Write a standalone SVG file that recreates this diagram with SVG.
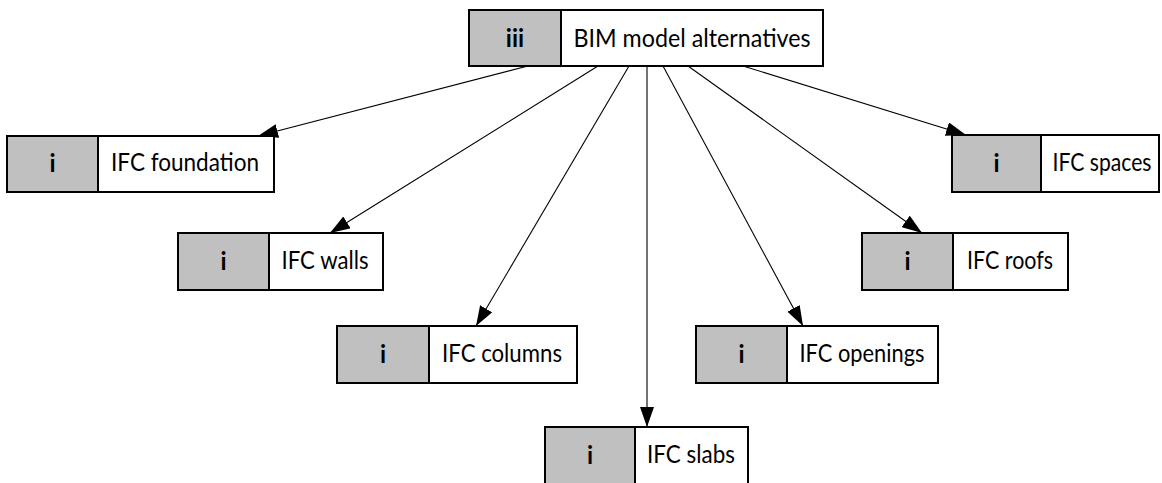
<svg xmlns="http://www.w3.org/2000/svg" width="1162" height="483" viewBox="0 0 1162 483">
<style>
.box{fill:#fff;stroke:#000;stroke-width:2}
.tag{fill:#c0c0c0;stroke:#000;stroke-width:2}
.lbl{font-family:Lato,"Open Sans","Liberation Sans",sans-serif;font-size:25px;fill:#000;text-anchor:middle}
.num{font-family:Lato,"Open Sans","Liberation Sans",sans-serif;font-size:24px;font-weight:bold;fill:#000;text-anchor:middle}
.conn{stroke:#000;stroke-width:1.1;fill:none;marker-end:url(#ah)}
</style>
<defs>
<marker id="ah" markerUnits="userSpaceOnUse" markerWidth="21" markerHeight="14" refX="20" refY="7" orient="auto">
<path d="M0,0 L20,7 L0,14 z" fill="#000"/>
</marker>
</defs>
<g id="connectors">
<line class="conn" x1="528" y1="66" x2="258" y2="136"/>
<line class="conn" x1="598" y1="66" x2="330" y2="233"/>
<line class="conn" x1="629" y1="66" x2="476" y2="326"/>
<line class="conn" x1="647" y1="66" x2="647" y2="427"/>
<line class="conn" x1="663" y1="66" x2="803" y2="326"/>
<line class="conn" x1="688" y1="66" x2="922" y2="233"/>
<line class="conn" x1="743" y1="66" x2="966" y2="135"/>
</g>
<g id="n-bim">
<rect class="box" x="469" y="10" width="354" height="56"/>
<rect class="tag" x="469" y="10" width="92" height="56"/>
<text class="num" x="515" y="47">iii</text>
<text class="lbl" x="692" y="47" textLength="237" lengthAdjust="spacingAndGlyphs">BIM model alternatives</text>
</g>
<g id="n-foundation">
<rect class="box" x="7" y="136" width="267" height="56"/>
<rect class="tag" x="7" y="136" width="91" height="56"/>
<text class="num" x="52.5" y="172">i</text>
<text class="lbl" x="185" y="171" textLength="148" lengthAdjust="spacingAndGlyphs">IFC foundation</text>
</g>
<g id="n-spaces">
<rect class="box" x="952" y="135" width="207" height="57"/>
<rect class="tag" x="952" y="135" width="89" height="57"/>
<text class="num" x="996.5" y="172">i</text>
<text class="lbl" x="1102" y="171" textLength="99" lengthAdjust="spacingAndGlyphs">IFC spaces</text>
</g>
<g id="n-walls">
<rect class="box" x="178" y="233" width="205" height="57"/>
<rect class="tag" x="178" y="233" width="91" height="57"/>
<text class="num" x="223.5" y="270">i</text>
<text class="lbl" x="325" y="269" textLength="87" lengthAdjust="spacingAndGlyphs">IFC walls</text>
</g>
<g id="n-roofs">
<rect class="box" x="862" y="233" width="206" height="57"/>
<rect class="tag" x="862" y="233" width="91" height="57"/>
<text class="num" x="907.5" y="270">i</text>
<text class="lbl" x="1010" y="269" textLength="86" lengthAdjust="spacingAndGlyphs">IFC roofs</text>
</g>
<g id="n-columns">
<rect class="box" x="337" y="326" width="240" height="57"/>
<rect class="tag" x="337" y="326" width="92" height="57"/>
<text class="num" x="383" y="363">i</text>
<text class="lbl" x="502" y="362" textLength="120" lengthAdjust="spacingAndGlyphs">IFC columns</text>
</g>
<g id="n-openings">
<rect class="box" x="696" y="326" width="242" height="57"/>
<rect class="tag" x="696" y="326" width="91" height="57"/>
<text class="num" x="741.5" y="363">i</text>
<text class="lbl" x="862" y="362" textLength="125" lengthAdjust="spacingAndGlyphs">IFC openings</text>
</g>
<g id="n-slabs">
<rect class="box" x="545" y="427" width="203" height="58"/>
<rect class="tag" x="545" y="427" width="90" height="58"/>
<text class="num" x="590" y="464">i</text>
<text class="lbl" x="691" y="463" textLength="88" lengthAdjust="spacingAndGlyphs">IFC slabs</text>
</g>
</svg>
